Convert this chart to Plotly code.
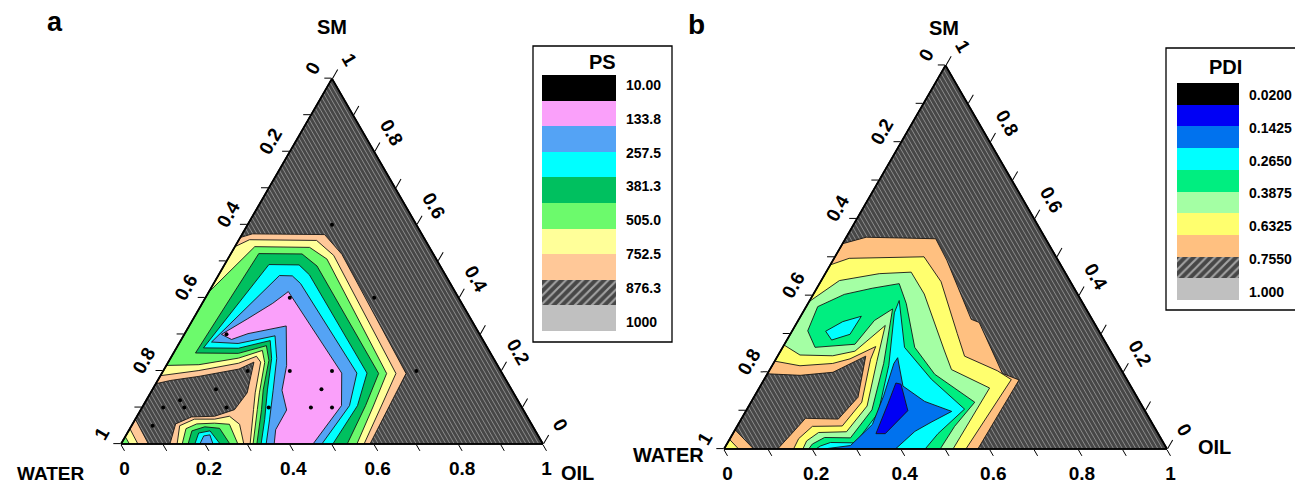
import numpy as np
import plotly.graph_objects as go

FONT = "Liberation Sans, Arial, Helvetica, sans-serif"

# ------------------------------------------------------------------ data
TICK_LABELS = ["0", "0.2", "0.4", "0.6", "0.8", "1"]
VERTEX_TITLES = ["SM", "WATER", "OIL"]
PANEL_LABELS = ["a", "b"]

# legend of panel a
PS_TITLE = "PS"
PS_LEVEL_LABELS = ["10.00", "133.8", "257.5", "381.3", "505.0", "752.5", "876.3", "1000"]
PS_SWATCHES = ["#000000", "#FAA0FA", "#54A3F5", "#00FFFF", "#00C05F",
               "#6CFA6C", "#FFFF99", "#FFC898", "HATCH", "#C0C0C0"]
# legend of panel b
PDI_TITLE = "PDI"
PDI_LEVEL_LABELS = ["0.0200", "0.1425", "0.2650", "0.3875", "0.6325", "0.7550", "1.000"]
PDI_SWATCHES = ["#000000", "#0000F5", "#0072EE", "#00FFFF", "#00EE80",
                "#A4FFA4", "#FFFF6E", "#FFC080", "HATCH", "#C0C0C0"]

# ---- panel a (PS) contour regions, compositions as (oil fraction, SM fraction)
A_ORANGE_OIL = [0, 0.024, 0.196, 0.264, 0.579, 0.584, 0.59, 0.116, 0.102, 0.130, 0.184, 0.222, 0.229, 0.203, 0.177, 0.092, 0.031, 0]
A_ORANGE_SM = [0.565, 0.575, 0.573, 0.519, 0.193, 0.104, 0, 0, 0.055, 0.074, 0.076, 0.094, 0.140, 0.224, 0.205, 0.185, 0.174, 0.165]
A_ORANGE_CORNER_OIL = [0, 0, 0.065]
A_ORANGE_CORNER_SM = [0, 0.068, 0]
A_YELLOW_OIL = [0, 0.025, 0.185, 0.246, 0.555, 0.565, 0.576, 0.306, 0.267, 0.248, 0.219, 0.201, 0.168, 0.084, 0]
A_YELLOW_SM = [0.54, 0.559, 0.557, 0.516, 0.193, 0.104, 0, 0, 0.094, 0.140, 0.224, 0.240, 0.221, 0.201, 0.187]
A_YELLOW_DOME_OIL = [0.133, 0.114, 0.140, 0.188, 0.219, 0.254, 0.291]
A_YELLOW_DOME_SM = [0, 0.050, 0.068, 0.068, 0.076, 0.054, 0]
A_YELLOW_CORNER_OIL = [0, 0, 0.04]
A_YELLOW_CORNER_SM = [0, 0.042, 0]
A_LGREEN_OIL = [0, 0.047, 0.178, 0.235, 0.533, 0.546, 0.559, 0.313, 0.276, 0.258, 0.229, 0.207, 0.161, 0.076, 0]
A_LGREEN_SM = [0.415, 0.540, 0.538, 0.506, 0.193, 0.104, 0, 0, 0.094, 0.140, 0.223, 0.256, 0.235, 0.217, 0.215]
A_LGREEN_DOME_OIL = [0.145, 0.133, 0.152, 0.193, 0.230, 0.277]
A_LGREEN_DOME_SM = [0, 0.042, 0.055, 0.057, 0.054, 0]
A_LGREEN_CORNER_OIL = [0, 0, 0.02]
A_LGREEN_CORNER_SM = [0, 0.02, 0]
A_GREEN_OIL = [0.052, 0.066, 0.169, 0.221, 0.514, 0.527, 0.536, 0.322, 0.286, 0.263, 0.236, 0.210, 0.154]
A_GREEN_SM = [0.249, 0.521, 0.520, 0.487, 0.193, 0.105, 0, 0, 0.094, 0.148, 0.229, 0.269, 0.248]
A_GREEN_DOME_OIL = [0.159, 0.150, 0.175, 0.212, 0.258]
A_GREEN_DOME_SM = [0, 0.036, 0.047, 0.043, 0]
A_CYAN_OIL = [0.064, 0.105, 0.177, 0.215, 0.486, 0.508, 0.502, 0.332, 0.307, 0.273, 0.240, 0.212, 0.147]
A_CYAN_SM = [0.263, 0.491, 0.490, 0.463, 0.194, 0.105, 0, 0, 0.067, 0.148, 0.234, 0.283, 0.262]
A_CYAN_DOME_OIL = [0.175, 0.169, 0.193, 0.235]
A_CYAN_DOME_SM = [0, 0.030, 0.036, 0]
A_BLUE_OIL = [0.075, 0.145, 0.176, 0.206, 0.462, 0.489, 0.476, 0.344, 0.319, 0.287, 0.252, 0.217, 0.140]
A_BLUE_SM = [0.279, 0.461, 0.460, 0.439, 0.194, 0.105, 0, 0, 0.066, 0.147, 0.234, 0.296, 0.275]
A_BLUE_DOME_OIL = [0.187, 0.185, 0.198, 0.218]
A_BLUE_DOME_SM = [0, 0.022, 0.025, 0]
A_PINK_OIL = [0.088, 0.129, 0.167, 0.188, 0.426, 0.470, 0.455, 0.363, 0.347, 0.346, 0.308, 0.285, 0.230, 0.150, 0.119]
A_PINK_SM = [0.300, 0.343, 0.385, 0.417, 0.194, 0.105, 0, 0, 0.039, 0.093, 0.147, 0.215, 0.323, 0.302, 0.286]
# measured formulations (black dots) in panel a
A_DOT_OIL = [0.2, 0.4, 0.2, 0.6, 0.3, 0.4, 0.4, 0.4, 0.45, 0.3, 0.1, 0.2, 0.15, 0.2, 0.08, 0.1, 0.05, 0.05]
A_DOT_SM = [0.6, 0.4, 0.4, 0.2, 0.2, 0.2, 0.15, 0.1, 0.1, 0.1, 0.3, 0.2, 0.15, 0.1, 0.12, 0.1, 0.1, 0.05]

# ---- panel b (PDI) contour regions
B_ORANGE_OIL = [0, 0.045, 0.204, 0.257, 0.389, 0.411, 0.530, 0.576, 0.573, 0.121, 0.132, 0.144, 0.219, 0.235, 0.199, 0.146, 0.076, 0]
B_ORANGE_SM = [0.535, 0.552, 0.548, 0.492, 0.338, 0.330, 0.197, 0.180, 0, 0, 0.037, 0.080, 0.078, 0.135, 0.242, 0.200, 0.192, 0.196]
B_ORANGE_CORNER_OIL = [0, 0, 0.067]
B_ORANGE_CORNER_SM = [0, 0.05, 0]
B_YELLOW_OIL = [0, 0.034, 0.201, 0.272, 0.376, 0.422, 0.515, 0.558, 0.546, 0.157, 0.155, 0.170, 0.237, 0.250, 0.214, 0.209, 0.167, 0.134, 0.063, 0]
B_YELLOW_SM = [0.480, 0.497, 0.501, 0.436, 0.301, 0.242, 0.204, 0.181, 0, 0, 0.027, 0.059, 0.060, 0.122, 0.234, 0.267, 0.235, 0.223, 0.217, 0.229]
B_YELLOW_CORNER_OIL = [0, 0, 0.033]
B_YELLOW_CORNER_SM = [0, 0.025, 0]
B_LGREEN_OIL = [0, 0.041, 0.122, 0.192, 0.250, 0.368, 0.410, 0.520, 0.517, 0.178, 0.176, 0.192, 0.254, 0.267, 0.231, 0.203, 0.168, 0.124, 0.049, 0]
B_LGREEN_SM = [0.384, 0.439, 0.457, 0.461, 0.404, 0.258, 0.207, 0.159, 0, 0, 0.021, 0.043, 0.045, 0.112, 0.228, 0.322, 0.255, 0.243, 0.245, 0.271]
B_GREEN_OIL = [0.035, 0.026, 0.070, 0.125, 0.180, 0.222, 0.298, 0.378, 0.505, 0.491, 0.488, 0.191, 0.193, 0.212, 0.271, 0.283, 0.249, 0.198, 0.172, 0.159, 0.073]
B_GREEN_SM = [0.308, 0.371, 0.403, 0.419, 0.431, 0.379, 0.265, 0.195, 0.122, 0.059, 0, 0, 0.013, 0.030, 0.029, 0.102, 0.223, 0.365, 0.335, 0.273, 0.265]
B_CYAN_OIL = [0.202, 0.275, 0.377, 0.491, 0.463, 0.454, 0.207, 0.214, 0.232, 0.289, 0.301, 0.263, 0.207]
B_CYAN_SM = [0.387, 0.265, 0.182, 0.104, 0.040, 0, 0, 0.008, 0.017, 0.016, 0.094, 0.218, 0.355]
B_CYAN_SPOT_OIL = [0.076, 0.102, 0.137, 0.135, 0.101]
B_CYAN_SPOT_SM = [0.307, 0.332, 0.346, 0.299, 0.284]
B_MBLUE_OIL = [0.273, 0.322, 0.391, 0.465, 0.434, 0.408, 0.387, 0.225, 0.281, 0.303, 0.291, 0.272]
B_MBLUE_SM = [0.238, 0.164, 0.124, 0.098, 0.071, 0.046, 0, 0, 0.009, 0.064, 0.139, 0.223]
B_BLUE_OIL = [0.323, 0.311, 0.302, 0.315, 0.365, 0.344]
B_BLUE_SM = [0.040, 0.119, 0.172, 0.169, 0.100, 0.040]

# ------------------------------------------------------------------ styling
W, H = 1295, 486
HATCH_BG = "#474747"
HATCH_LINE = "#8c8c8c"
EDGE = "#151515"

PS_FILL = dict(orange=PS_SWATCHES[7], yellow=PS_SWATCHES[6], lgreen=PS_SWATCHES[5],
               green=PS_SWATCHES[4], cyan=PS_SWATCHES[3], blue=PS_SWATCHES[2], pink=PS_SWATCHES[1])
PDI_FILL = dict(orange=PDI_SWATCHES[7], yellow=PDI_SWATCHES[6], lgreen=PDI_SWATCHES[5],
                green=PDI_SWATCHES[4], cyan=PDI_SWATCHES[3], mblue=PDI_SWATCHES[2], blue=PDI_SWATCHES[1])

A_REGIONS = [
    (A_ORANGE_OIL, A_ORANGE_SM, PS_FILL["orange"]),
    (A_ORANGE_CORNER_OIL, A_ORANGE_CORNER_SM, PS_FILL["orange"]),
    (A_YELLOW_OIL, A_YELLOW_SM, PS_FILL["yellow"]),
    (A_YELLOW_DOME_OIL, A_YELLOW_DOME_SM, PS_FILL["yellow"]),
    (A_YELLOW_CORNER_OIL, A_YELLOW_CORNER_SM, PS_FILL["yellow"]),
    (A_LGREEN_OIL, A_LGREEN_SM, PS_FILL["lgreen"]),
    (A_LGREEN_DOME_OIL, A_LGREEN_DOME_SM, PS_FILL["lgreen"]),
    (A_LGREEN_CORNER_OIL, A_LGREEN_CORNER_SM, PS_FILL["lgreen"]),
    (A_GREEN_OIL, A_GREEN_SM, PS_FILL["green"]),
    (A_GREEN_DOME_OIL, A_GREEN_DOME_SM, PS_FILL["green"]),
    (A_CYAN_OIL, A_CYAN_SM, PS_FILL["cyan"]),
    (A_CYAN_DOME_OIL, A_CYAN_DOME_SM, PS_FILL["cyan"]),
    (A_BLUE_OIL, A_BLUE_SM, PS_FILL["blue"]),
    (A_BLUE_DOME_OIL, A_BLUE_DOME_SM, PS_FILL["blue"]),
    (A_PINK_OIL, A_PINK_SM, PS_FILL["pink"]),
]
B_REGIONS = [
    (B_ORANGE_OIL, B_ORANGE_SM, PDI_FILL["orange"]),
    (B_ORANGE_CORNER_OIL, B_ORANGE_CORNER_SM, PDI_FILL["orange"]),
    (B_YELLOW_OIL, B_YELLOW_SM, PDI_FILL["yellow"]),
    (B_YELLOW_CORNER_OIL, B_YELLOW_CORNER_SM, PDI_FILL["yellow"]),
    (B_LGREEN_OIL, B_LGREEN_SM, PDI_FILL["lgreen"]),
    (B_GREEN_OIL, B_GREEN_SM, PDI_FILL["green"]),
    (B_CYAN_OIL, B_CYAN_SM, PDI_FILL["cyan"]),
    (B_CYAN_SPOT_OIL, B_CYAN_SPOT_SM, PDI_FILL["cyan"]),
    (B_MBLUE_OIL, B_MBLUE_SM, PDI_FILL["mblue"]),
    (B_BLUE_OIL, B_BLUE_SM, PDI_FILL["blue"]),
]

fig = go.Figure()


def add_region(oil, sm, color, subplot):
    oil_c = list(oil) + [oil[0]]
    sm_c = list(sm) + [sm[0]]
    water_c = [1 - o - s for o, s in zip(oil_c, sm_c)]
    fig.add_trace(go.Scatterternary(
        a=sm_c, b=water_c, c=oil_c, mode="lines", fill="toself",
        fillcolor=color, line=dict(color=EDGE, width=0.9),
        hoverinfo="skip", showlegend=False, subplot=subplot))


for oil, sm, col in A_REGIONS:
    add_region(oil, sm, col, "ternary")
for oil, sm, col in B_REGIONS:
    add_region(oil, sm, col, "ternary2")

fig.add_trace(go.Scatterternary(
    a=A_DOT_SM, c=A_DOT_OIL, b=[1 - o - s for o, s in zip(A_DOT_OIL, A_DOT_SM)],
    mode="markers", marker=dict(color="black", size=4),
    hoverinfo="skip", showlegend=False, subplot="ternary"))

tick_font = dict(family=FONT, size=19, color="black", weight="bold")


def edge_axis(tickangle, ticklen):
    # labels read the other component along each edge (clockwise convention)
    vals = [round(i * 0.1, 2) for i in range(11)]
    text = [TICK_LABELS[(10 - i) // 2] if i % 2 == 0 else "" for i in range(11)]
    return dict(min=0, tickmode="array", tickvals=vals, ticktext=text,
                ticks="outside", ticklen=ticklen, tickwidth=1.2, tickcolor="black",
                tickangle=tickangle, tickfont=tick_font, showgrid=False,
                showline=True, linecolor="black", linewidth=1.6, title=dict(text=""))


def plain_axis(hatch=False):
    ax = dict(min=0, showticklabels=False, ticks="", showline=True, linecolor="black",
              linewidth=1.6, showgrid=False, title=dict(text=""))
    if hatch:
        ax.update(tickmode="array", tickvals=[round(i * 0.01, 3) for i in range(101)],
                  showgrid=True, gridcolor=HATCH_LINE, gridwidth=1)
    return ax


def px_x(x):
    return x / W


def px_y(y):
    return (H - y) / H


def domain_for(x0, x1, ybottom):
    height = (x1 - x0) * np.sqrt(3) / 2
    return dict(x=[px_x(x0), px_x(x1)], y=[px_y(ybottom), px_y(ybottom - height)])


def base_ternary(dom):
    # background hatching of the highest band, drawn beneath the contour fills
    return dict(domain=dom, sum=1, bgcolor=HATCH_BG,
                aaxis=plain_axis(), baxis=plain_axis(hatch=True), caxis=plain_axis())


def frame_ternary(dom):
    # transparent twin carrying ticks and tick labels above the fills
    return dict(domain=dom, sum=1, bgcolor="rgba(0,0,0,0)",
                aaxis=edge_axis(-60, 7), baxis=edge_axis(0, 7), caxis=edge_axis(60, 10))


DOM_A = domain_for(121, 543, 444)
DOM_B = domain_for(724, 1167, 449)


# ---- legend swatch columns (cartesian axes)
def add_swatches(colors, xaxis, yaxis):
    n = len(colors)
    cols = [HATCH_BG if c == "HATCH" else c for c in colors]
    shapes = ["/" if c == "HATCH" else "" for c in colors]
    fig.add_trace(go.Bar(
        x=[0] * n, y=[1] * n, base=[n - 1 - i for i in range(n)], width=1,
        marker=dict(color=cols, line=dict(width=0),
                    pattern=dict(shape=shapes, fgcolor=HATCH_LINE, size=6,
                                 solidity=0.35, fillmode="overlay")),
        hoverinfo="skip", showlegend=False, xaxis=xaxis, yaxis=yaxis))


add_swatches(PS_SWATCHES, "x", "y")
add_swatches(PDI_SWATCHES, "x2", "y2")

legend_font = dict(family=FONT, size=14, color="black", weight="bold")
hidden_x = dict(range=[-0.5, 0.5], visible=False, fixedrange=True)


def legend_yaxis(anchor, domain, labels, top, bottom):
    return dict(anchor=anchor, domain=domain, range=[0, 10], side="right",
                tickmode="array", tickvals=list(np.linspace(top, bottom, len(labels))),
                ticktext=labels, ticks="", showgrid=False, zeroline=False,
                showline=False, tickfont=legend_font, ticklabelstandoff=9, fixedrange=True)


fig.update_layout(
    width=W, height=H, margin=dict(l=0, r=0, t=0, b=0),
    paper_bgcolor="white", plot_bgcolor="white", showlegend=False,
    ternary=base_ternary(DOM_A),
    ternary2=base_ternary(DOM_B),
    ternary3=frame_ternary(DOM_A),
    ternary4=frame_ternary(DOM_B),
    xaxis=dict(domain=[px_x(542), px_x(616)], anchor="y", **hidden_x),
    yaxis=legend_yaxis("x", [px_y(331), px_y(75)], PS_LEVEL_LABELS, 9.61, 0.35),
    xaxis2=dict(domain=[px_x(1177), px_x(1239)], anchor="y2", **hidden_x),
    yaxis2=legend_yaxis("x2", [px_y(300), px_y(83)], PDI_LEVEL_LABELS, 9.45, 0.37),
    bargap=0,
)

# the frame subplots need at least one (invisible) trace to be drawn
for sp in ("ternary3", "ternary4"):
    fig.add_trace(go.Scatterternary(a=[1], b=[0], c=[0], mode="markers",
                                    marker=dict(size=1, opacity=0), hoverinfo="skip",
                                    showlegend=False, subplot=sp))

# legend frames
fig.add_shape(type="rect", xref="paper", yref="paper", x0=px_x(533), x1=px_x(672),
              y0=px_y(342), y1=px_y(46), line=dict(color="black", width=1.3))
fig.add_shape(type="rect", xref="paper", yref="paper", x0=px_x(1166), x1=1.05,
              y0=px_y(310), y1=px_y(48), line=dict(color="black", width=1.3))


def label(text, x, y, size):
    fig.add_annotation(text=f"<b>{text}</b>", x=px_x(x), y=px_y(y), xref="paper", yref="paper",
                       showarrow=False, xanchor="center", yanchor="middle",
                       font=dict(family=FONT, size=size, color="black"))


label(PS_TITLE, 602, 62, 20)
label(PDI_TITLE, 1225, 67, 20)
label(PANEL_LABELS[0], 55, 22, 27)
label(PANEL_LABELS[1], 696, 24, 28)
# vertex titles
label(VERTEX_TITLES[0], 332, 27, 20)
label(VERTEX_TITLES[1], 50, 473, 19)
label(VERTEX_TITLES[2], 577, 473, 20)
label(VERTEX_TITLES[0], 944, 28, 20)
label(VERTEX_TITLES[1], 668, 455, 20)
label(VERTEX_TITLES[2], 1214, 447, 20)

fig.write_html("out.html")
